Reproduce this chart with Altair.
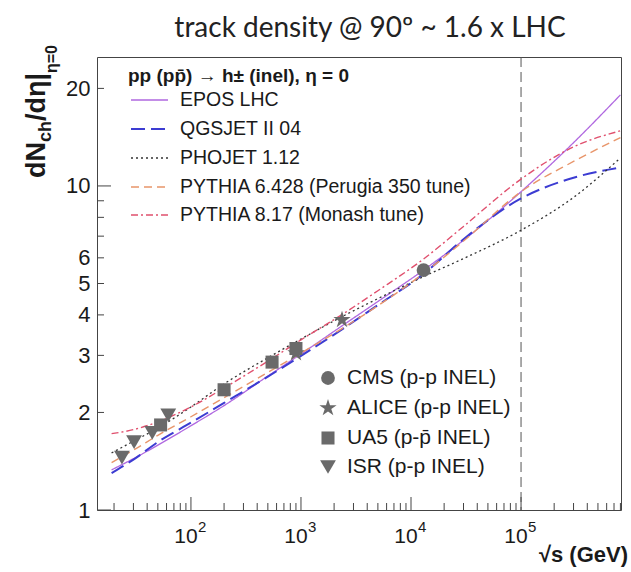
import altair as alt
import pandas as pd

# ---------------- data ----------------
energy = [19, 30, 50, 100, 200, 500, 1000, 2360, 5000, 13000, 30000, 100000, 300000, 800000]
epos    = [1.33, 1.44, 1.585, 1.82, 2.10, 2.59, 3.03, 3.70, 4.40, 5.50, 6.80, 9.60, 13.6, 19.1]
qgsjet  = [1.30, 1.43, 1.62, 1.86, 2.14, 2.58, 2.99, 3.61, 4.29, 5.35, 6.85, 9.15, 10.6, 11.4]
phojet  = [1.50, 1.63, 1.79, 2.08, 2.45, 2.95, 3.37, 3.95, 4.49, 5.25, 5.97, 7.30, 9.22, 12.2]
pythia6 = [1.40, 1.53, 1.70, 1.94, 2.22, 2.66, 3.05, 3.63, 4.27, 5.37, 6.76, 9.60, 11.9, 14.1]
pythia8 = [1.72, 1.77, 1.87, 2.08, 2.38, 2.88, 3.35, 4.01, 4.75, 5.95, 7.50, 10.5, 13.2, 14.8]

models = ["EPOS LHC", "QGSJET II 04", "PHOJET 1.12",
          "PYTHIA 6.428 (Perugia 350 tune)", "PYTHIA 8.17 (Monash tune)"]
model_values = [epos, qgsjet, phojet, pythia6, pythia8]
model_colors = ["#b068e0", "#3c3cd2", "#333333", "#e8956a", "#e0506e"]
model_dash = [[1, 0], [14, 6], [2, 3], [8, 5], [7, 3, 2, 3]]
model_width = [1.3, 2.0, 1.3, 1.4, 1.4]

isr_e, isr_v = [23.6, 30.4, 44.5, 62.2], [1.45, 1.62, 1.73, 1.96]
ua5_e, ua5_v = [53, 200, 546, 900], [1.83, 2.35, 2.86, 3.15]
alice_e, alice_v = [900, 2360], [3.05, 3.86]
cms_e, cms_v = [13000], [5.5]

experiments = ["CMS (p-p INEL)", "ALICE (p-p INEL)", "UA5 (p-p\u0304 INEL)", "ISR (p-p INEL)"]
STAR = "M0,-1L0.225,-0.31L0.95,-0.31L0.36,0.12L0.59,0.81L0,0.38L-0.59,0.81L-0.36,0.12L-0.95,-0.31L-0.225,-0.31Z"
exp_shapes = ["circle", STAR, "square", "triangle-down"]
exp_sizes = [190, 330, 170, 250]
exp_data = [(cms_e, cms_v), (alice_e, alice_v), (ua5_e, ua5_v), (isr_e, isr_v)]

x_major = [100, 1000, 10000, 100000]
x_major_base = ["10", "10", "10", "10"]
x_major_exp = ["2", "3", "4", "5"]
y_labels = [1, 2, 3, 4, 5, 6, 10, 20]

# ---------------- layout ----------------
W, H = 524, 453
X_DOMAIN = [14, 810000]
Y_DOMAIN = [1, 25]
xs = alt.Scale(type="log", domain=X_DOMAIN)
ys = alt.Scale(type="log", domain=Y_DOMAIN)
GRAY = "#6a6a6a"
TXT = "#1a1a1a"
FONT = "Liberation Sans"

YAXIS = alt.Axis(values=y_labels, format="d", ticks=False, domain=False, grid=False,
                 labelFont=FONT, labelFontSize=22, labelColor=TXT, labelPadding=7,
                 title=None)


def X(field="e"):
    return alt.X(f"{field}:Q", scale=xs, axis=None)


def Y(field="v"):
    return alt.Y(f"{field}:Q", scale=ys, axis=YAXIS)


x_minor = [m * 10 ** k for k in range(1, 6) for m in range(2, 10)
           if X_DOMAIN[0] <= m * 10 ** k <= X_DOMAIN[1]]
y_major = [1, 10]
y_minor = [2, 3, 4, 5, 6, 7, 8, 9, 20]

layers = []


# inner ticks
def xticks(vals, length):
    return alt.Chart(pd.DataFrame({"e": vals})).mark_rule(color="#444", strokeWidth=1).encode(
        x=X(), y=alt.value(H), y2=alt.value(H - length))


def yticks(vals, length):
    return alt.Chart(pd.DataFrame({"v": vals})).mark_rule(color="#444", strokeWidth=1).encode(
        y=Y(), x=alt.value(0), x2=alt.value(length))


layers += [yticks(y_minor, 7), yticks(y_major, 14), xticks(x_minor, 7), xticks(x_major, 13)]

# vertical dashed line at 10^5
layers.append(alt.Chart(pd.DataFrame({"e": [100000]})).mark_rule(
    color="#555", strokeDash=[10, 5], strokeWidth=1).encode(x=X()))

# model curves
for name, vals, col, dash, w in zip(models, model_values, model_colors, model_dash, model_width):
    df = pd.DataFrame({"e": energy, "v": vals})
    layers.append(alt.Chart(df).mark_line(color=col, strokeDash=dash, strokeWidth=w,
                                          interpolate="monotone").encode(x=X(), y=Y()))

# data points
for (es, vs), shp, sz in zip(exp_data, exp_shapes, exp_sizes):
    df = pd.DataFrame({"e": es, "v": vs})
    layers.append(alt.Chart(df).mark_point(shape=shp, size=sz, filled=True, color=GRAY,
                                           opacity=1).encode(x=X(), y=Y()))

# x tick labels 10^n
xl = pd.DataFrame({"e": x_major, "b": x_major_base, "p": x_major_exp})
layers.append(alt.Chart(xl).mark_text(font=FONT, fontSize=21, color=TXT, align="center",
                                      baseline="alphabetic", dx=-5).encode(
    x=X(), y=alt.value(H + 33), text="b:N"))
layers.append(alt.Chart(xl).mark_text(font=FONT, fontSize=15, color=TXT, align="left",
                                      baseline="alphabetic", dx=7).encode(
    x=X(), y=alt.value(H + 22), text="p:N"))


def label(text, x, y, size, weight="normal", font=FONT, align="left",
          baseline="middle", angle=0, color=TXT):
    kw = dict(text=text, fontSize=size, fontWeight=weight, font=font, align=align,
              baseline=baseline, color=color)
    if angle:
        kw["angle"] = angle
    return alt.Chart(pd.DataFrame({"k": [0]})).mark_text(**kw).encode(
        x=alt.value(x), y=alt.value(y))


# title
layers.append(label("track density @ 90\u00ba ~ 1.6 x LHC", 273, -20, 28, font="Lato",
                    align="center", baseline="alphabetic", color="#222"))

# y-axis title, composed (rotated)
layers.append(label("dN", -52, 121, 27, weight="bold", baseline="alphabetic", angle=270))
layers.append(label("ch", -46, 85, 18, weight="bold", baseline="alphabetic", angle=270))
layers.append(label("/d\u03b7|", -52, 64, 27, weight="bold", baseline="alphabetic", angle=270))
layers.append(label("\u03b7=0", -40, 16, 16, weight="bold", baseline="alphabetic", angle=270))

# x-axis title
layers.append(label("\u221as (GeV)", 531, 505, 22, weight="bold", align="right",
                    baseline="alphabetic"))

# model legend
layers.append(label("pp (pp\u0304) \u2192 h\u00b1 (inel), \u03b7 = 0", 31, 19, 19, weight="bold"))
leg_rows = [43, 72, 101, 130, 158]
for name, col, dash, w, yy in zip(models, model_colors, model_dash, model_width, leg_rows):
    layers.append(alt.Chart(pd.DataFrame({"k": [0]})).mark_rule(
        color=col, strokeDash=dash, strokeWidth=w).encode(
        x=alt.value(34), x2=alt.value(71), y=alt.value(yy)))
    layers.append(label(name, 83, yy, 19.5))

# data legend
dleg_rows = [321, 351, 381, 410]
for name, shp, sz, yy in zip(experiments, exp_shapes, exp_sizes, dleg_rows):
    layers.append(alt.Chart(pd.DataFrame({"k": [0]})).mark_point(
        shape=shp, size=sz, filled=True, color=GRAY, opacity=1).encode(
        x=alt.value(231), y=alt.value(yy)))
    layers.append(label(name, 250, yy, 21))

chart = alt.layer(*layers).properties(
    width=W, height=H,
    autosize=alt.AutoSizeParams(type="none"),
    padding={"left": 97, "top": 57, "right": 10, "bottom": 62},
    background="white",
).configure_view(stroke="#444", strokeWidth=1)

chart.save("out.html", embed_options={"renderer": "svg", "actions": False})
